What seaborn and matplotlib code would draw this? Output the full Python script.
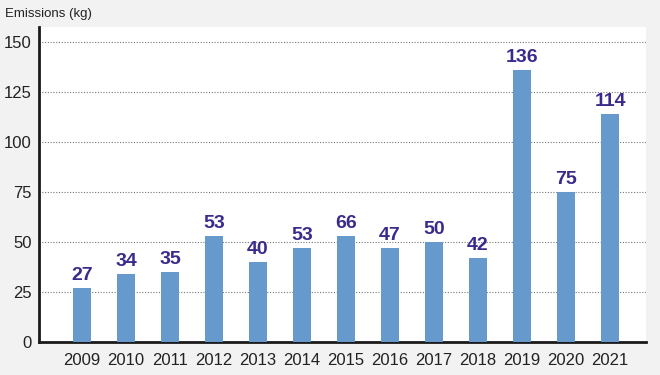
import matplotlib
matplotlib.use("Agg")
import matplotlib.pyplot as plt
import pandas as pd
import seaborn as sns

years = ['2009', '2010', '2011', '2012', '2013', '2014', '2015',
         '2016', '2017', '2018', '2019', '2020', '2021']
# bar heights as drawn in the picture
heights = [27, 34, 35, 53, 40, 47, 53, 47, 50, 42, 136, 75, 114]
# value labels as printed above the bars
labels = ['27', '34', '35', '53', '40', '53', '66', '47', '50', '42', '136', '75', '114']
yticks = [0, 25, 50, 75, 100, 125, 150]

df = pd.DataFrame({'year': years, 'emissions': heights})

sns.set_style('white')
plt.rcParams['font.family'] = ['Liberation Sans', 'DejaVu Sans']

fig = plt.figure(figsize=(6.6, 3.75), dpi=100, facecolor='#f2f2f2')
ax = fig.add_axes([0.059, 0.088, 0.92, 0.84])
ax.set_facecolor('white')

sns.barplot(data=df, x='year', y='emissions', color='#6699cc', saturation=1,
            width=0.41, linewidth=0, ax=ax, zorder=3)

for i, (h, lab) in enumerate(zip(heights, labels)):
    ax.text(i, h + 2, lab, ha='center', va='bottom', fontsize=14,
            fontweight='bold', color='#3b2a8c', zorder=4)

ax.set_ylim(0, 157.5)
ax.set_xlim(-0.98, 12.82)
ax.set_yticks(yticks)
ax.set_yticklabels([str(t) for t in yticks])
ax.yaxis.grid(True, linestyle=(0, (1, 1.5)), color='#777777', linewidth=0.8, zorder=0)
ax.set_axisbelow(True)
ax.tick_params(axis='both', length=0, labelsize=12, colors='#222222')
ax.tick_params(axis='x', pad=8)
ax.tick_params(axis='y', pad=5)
ax.set_xlabel('')
ax.set_ylabel('')

for side in ['top', 'right']:
    ax.spines[side].set_visible(False)
for side in ['left', 'bottom']:
    ax.spines[side].set_color('#1a1a1a')
    ax.spines[side].set_linewidth(2)

fig.text(0.008, 0.962, 'Emissions (kg)', fontsize=9.5, color='#222222', va='center')

fig.savefig('out.png', dpi=100, facecolor=fig.get_facecolor())
